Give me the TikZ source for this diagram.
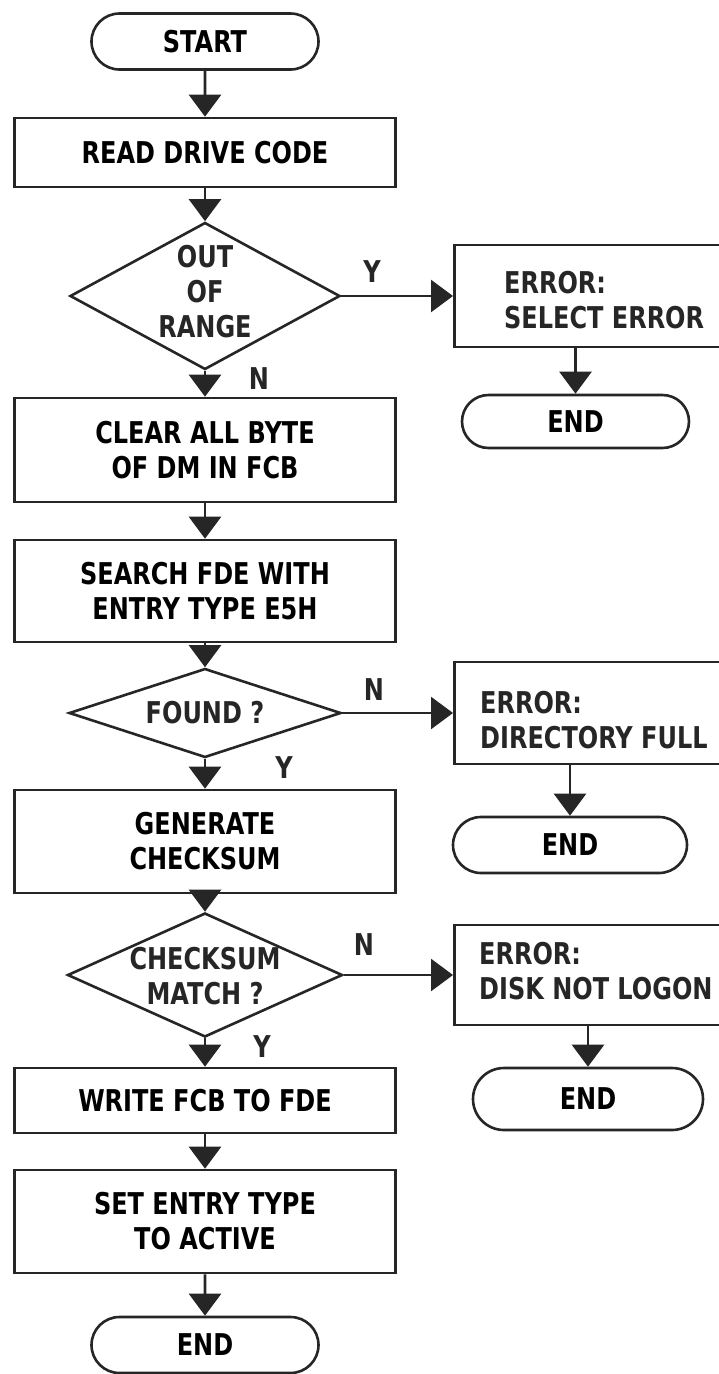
\documentclass[tikz,border=0pt]{standalone}
\usepackage{fontspec}
\setmainfont{DejaVu Sans}[FakeStretch=0.8]
\usetikzlibrary{arrows.meta,shapes.geometric,shapes.misc,calc}
\newcommand\flowfont{\bfseries\fontsize{30}{35}\selectfont}
\tikzset{
  ln/.style={line width=2.6pt, draw=black!85},
  proc/.style={draw, ln, rectangle, minimum width=381pt, inner sep=0pt, align=center, font=\flowfont},
  term/.style={draw, ln, rounded rectangle, minimum width=227pt, minimum height=56pt, inner sep=0pt, font=\flowfont},
  dec/.style={draw, ln, diamond, inner sep=0pt},
  errbox/.style={draw, ln, rectangle, minimum width=272pt, inner sep=0pt, anchor=west},
  txt/.style={font=\flowfont, inner sep=0pt, align=center, text=black!85},
  ltxt/.style={font=\flowfont, inner sep=0pt, align=left, anchor=west, text=black!85},
  flow/.style={ln, -{Triangle[width=32pt,length=22pt]}},
}
\begin{document}
\begin{tikzpicture}[x=1pt,y=-1pt]
\useasboundingbox[fill=white] (0,0) rectangle (718,1374);

% main column
\node[term] (start) at (205,41.5) {START};
\node[proc, minimum height=69pt] (read) at (205,152.5) {READ DRIVE CODE};
\node[dec, minimum width=270pt, minimum height=147pt] (range) at (205,296) {};
\node[txt] (rangetxt) at (205,292) {OUT\\OF\\RANGE};
\node[proc, minimum height=104pt] (clear) at (205,450) {CLEAR ALL BYTE\\OF DM IN FCB};
\node[proc, minimum height=102pt] (search) at (205,591) {SEARCH FDE WITH\\ENTRY TYPE E5H};
\node[dec, minimum width=272pt, minimum height=89pt] (found) at (205,713) {};
\node[txt] (foundtxt) at (205,713) {FOUND ?};
\node[proc, minimum height=103pt] (gen) at (205,841.5) {GENERATE\\CHECKSUM};
\node[dec, minimum width=275pt, minimum height=124pt] (match) at (205,975) {};
\node[txt] (matchtxt) at (205,976) {CHECKSUM\\MATCH ?};
\node[proc, minimum height=65pt] (write) at (205,1100.5) {WRITE FCB TO FDE};
\node[proc, minimum height=103pt] (set) at (205,1221.5) {SET ENTRY TYPE\\TO ACTIVE};
\node[term] (end) at (205,1345) {END};

% right column
\node[errbox, minimum height=102pt] (err1) at (453,296) {};
\node[ltxt] (err1txt) at (504,300) {ERROR:\\SELECT ERROR};
\node[term, minimum width=227pt, minimum height=53pt] (end1) at (575.5,421.5) {END};
\node[errbox, minimum height=102pt] (err2) at (453,713) {};
\node[ltxt] (err2txt) at (480,720) {ERROR:\\DIRECTORY FULL};
\node[term, minimum width=234pt, minimum height=56pt] (end2) at (570,845) {END};
\node[errbox, minimum height=100pt] (err3) at (453,975) {};
\node[ltxt] (err3txt) at (479,971.5) {ERROR:\\DISK NOT LOGON};
\node[term, minimum width=230pt, minimum height=62pt] (end3) at (588,1099) {END};

% labels
\node[txt] (y1) at (372,272) {Y};
\node[txt] (n1) at (259,379) {N};
\node[txt] (n2) at (374,690) {N};
\node[txt] (y2) at (284,768) {Y};
\node[txt] (n3) at (364,945) {N};
\node[txt] (y3) at (262,1047) {Y};

% connectors
\draw[flow] (start) -- (read);
\draw[flow] (read) -- (range);
\draw[flow] (range) -- (clear);
\draw[flow] (clear) -- (search);
\draw[flow] (search) -- (found);
\draw[flow] (found) -- (gen);
\draw[flow] (gen) -- (match);
\draw[flow] (match) -- (write);
\draw[flow] (write) -- (set);
\draw[flow] (set) -- (end);
\draw[flow] (range.east) -- (err1.west);
\draw[flow] (found.east) -- (err2.west);
\draw[flow] (match.east) -- (err3.west);
\draw[flow] (end1.north |- err1.south) -- (end1.north);
\draw[flow] (end2.north |- err2.south) -- (end2.north);
\draw[flow] (end3.north |- err3.south) -- (end3.north);
\end{tikzpicture}
\end{document}
